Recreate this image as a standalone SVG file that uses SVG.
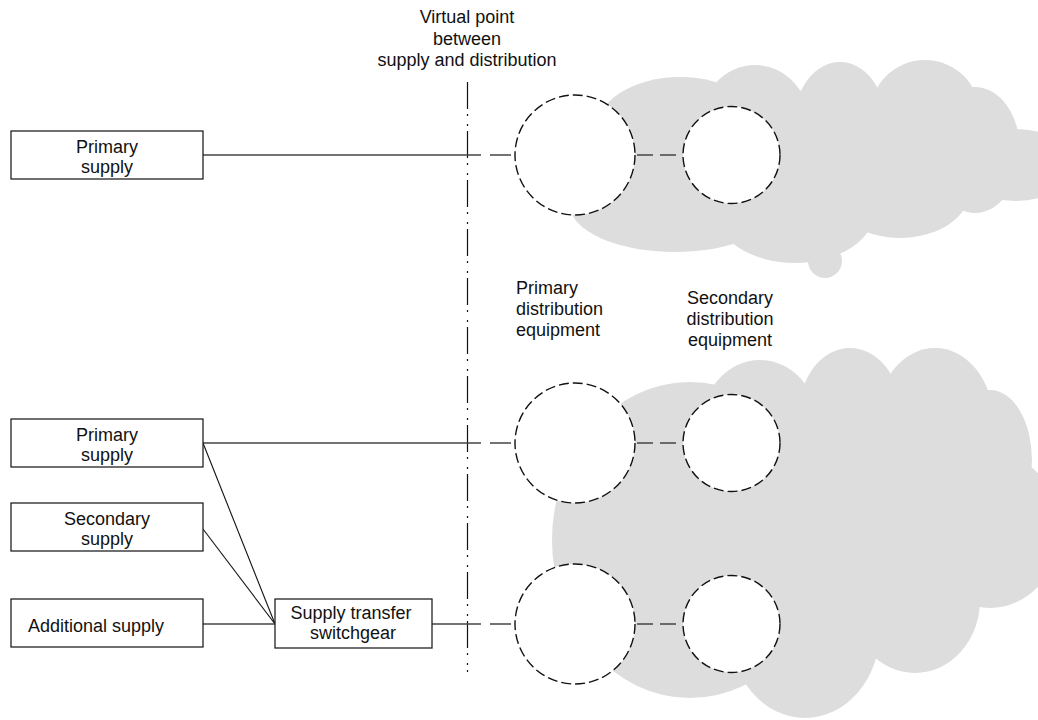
<svg xmlns="http://www.w3.org/2000/svg" width="1038" height="720" viewBox="0 0 1038 720">
<style>
.cloud{fill:#dddddd;stroke:none}
.box{fill:#ffffff;stroke:#222;stroke-width:1.3}
.eq{fill:#ffffff;stroke:#111;stroke-width:1.4;stroke-dasharray:10 4}
.t{font-family:"Liberation Sans",Arial,sans-serif;font-size:18px;fill:#111}
.c{text-anchor:middle}
.solid{stroke:#444;stroke-width:1.5;fill:none}
.thin{stroke:#111;stroke-width:1.1;fill:none}
.dash{stroke:#444;stroke-width:1.5;fill:none;stroke-dasharray:16 7}
.axis{stroke:#111;stroke-width:1.2;fill:none;stroke-dasharray:27 5 2 8 2 5}
</style>
<rect width="1038" height="720" fill="#ffffff"/>
<g id="cloud-top">
<ellipse class="cloud" cx="675" cy="205" rx="105" ry="47"/>
<ellipse class="cloud" cx="680" cy="132" rx="85" ry="55"/>
<ellipse class="cloud" cx="755" cy="125" rx="55" ry="60"/>
<ellipse class="cloud" cx="840" cy="120" rx="45" ry="58"/>
<ellipse class="cloud" cx="925" cy="115" rx="55" ry="55"/>
<ellipse class="cloud" cx="975" cy="150" rx="45" ry="63"/>
<ellipse class="cloud" cx="1015" cy="165" rx="60" ry="36"/>
<ellipse class="cloud" cx="900" cy="190" rx="70" ry="48"/>
<ellipse class="cloud" cx="795" cy="210" rx="80" ry="53"/>
<circle class="cloud" cx="825" cy="261" r="17"/>
<ellipse class="cloud" cx="820" cy="160" rx="150" ry="70"/>
</g>
<g id="cloud-bottom">
<ellipse class="cloud" cx="690" cy="540" rx="138" ry="158"/>
<ellipse class="cloud" cx="760" cy="430" rx="60" ry="70"/>
<ellipse class="cloud" cx="850" cy="410" rx="50" ry="62"/>
<ellipse class="cloud" cx="935" cy="420" rx="58" ry="72"/>
<ellipse class="cloud" cx="990" cy="460" rx="42" ry="70"/>
<ellipse class="cloud" cx="990" cy="530" rx="70" ry="78"/>
<ellipse class="cloud" cx="915" cy="600" rx="65" ry="73"/>
<ellipse class="cloud" cx="805" cy="630" rx="75" ry="88"/>
<ellipse class="cloud" cx="850" cy="520" rx="130" ry="120"/>
</g>
<g id="connectors">
<line class="axis" x1="467.5" y1="82" x2="467.5" y2="672"/>
<line class="solid" x1="203" y1="155" x2="481" y2="155"/>
<line class="solid" x1="490" y1="155" x2="511" y2="155"/>
<line class="dash" x1="637" y1="155" x2="683" y2="155"/>
<line class="solid" x1="203" y1="443" x2="481" y2="443"/>
<line class="solid" x1="490" y1="443" x2="511" y2="443"/>
<line class="dash" x1="637" y1="443" x2="683" y2="443"/>
<line class="thin" x1="203" y1="443" x2="275" y2="624"/>
<line class="thin" x1="203" y1="529" x2="275" y2="624"/>
<line class="solid" x1="203" y1="624" x2="275" y2="624"/>
<line class="solid" x1="432" y1="624" x2="481" y2="624"/>
<line class="solid" x1="490" y1="624" x2="511" y2="624"/>
<line class="dash" x1="637" y1="624" x2="683" y2="624"/>
</g>
<g id="label-virtual-point">
<text class="t c" x="467" y="23">Virtual point</text>
<text class="t c" x="467" y="44.5">between</text>
<text class="t c" x="467" y="66">supply and distribution</text>
</g>
<g id="primary-supply-1">
<rect class="box" x="11" y="131" width="192" height="48"/>
<text class="t c" x="107" y="153">Primary</text>
<text class="t c" x="107" y="173">supply</text>
</g>
<g id="primary-supply-2">
<rect class="box" x="11" y="419" width="192" height="48"/>
<text class="t c" x="107" y="441">Primary</text>
<text class="t c" x="107" y="461">supply</text>
</g>
<g id="secondary-supply">
<rect class="box" x="11" y="503" width="192" height="48"/>
<text class="t c" x="107" y="525">Secondary</text>
<text class="t c" x="107" y="545">supply</text>
</g>
<g id="additional-supply">
<rect class="box" x="11" y="599" width="192" height="48"/>
<text class="t" x="28" y="632">Additional supply</text>
</g>
<g id="supply-transfer-switchgear">
<rect class="box" x="275" y="599" width="157" height="49"/>
<text class="t c" x="351" y="619">Supply transfer</text>
<text class="t c" x="353" y="639">switchgear</text>
</g>
<g id="pde-1"><circle class="eq" cx="575" cy="155" r="60"/></g>
<g id="sde-1"><circle class="eq" cx="731.5" cy="155" r="48.5"/></g>
<g id="pde-2"><circle class="eq" cx="575" cy="443" r="60"/></g>
<g id="sde-2"><circle class="eq" cx="731.5" cy="443" r="48.5"/></g>
<g id="pde-3"><circle class="eq" cx="575" cy="624" r="60"/></g>
<g id="sde-3"><circle class="eq" cx="731.5" cy="624" r="48.5"/></g>
<g id="label-primary-distribution">
<text class="t" x="516" y="294">Primary</text>
<text class="t" x="516" y="315">distribution</text>
<text class="t" x="516" y="336">equipment</text>
</g>
<g id="label-secondary-distribution">
<text class="t c" x="730" y="304">Secondary</text>
<text class="t c" x="730" y="325">distribution</text>
<text class="t c" x="730" y="346">equipment</text>
</g>
</svg>
